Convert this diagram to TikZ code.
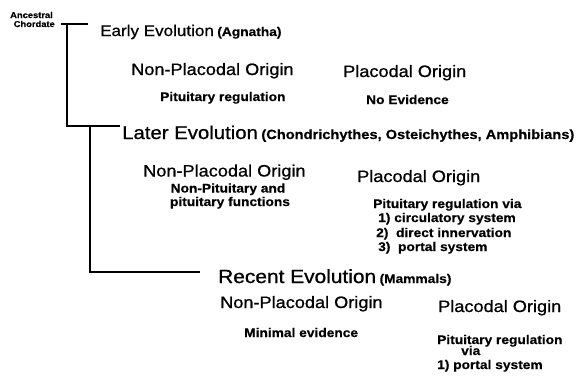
\documentclass[tikz,border=0pt]{standalone}
\usepackage{fontspec}
\setmainfont{Liberation Sans}[FakeStretch=1.1, UprightFeatures={FakeBold=0.8}, BoldFeatures={FakeBold=0.4}]
\begin{document}
\begin{tikzpicture}[x=1pt,y=-1pt,
  head/.style={anchor=base west, inner sep=0pt, font=\fontsize{16.5}{19}\selectfont},
  big/.style={anchor=base west, inner sep=0pt, font=\fontsize{#1}{#1}\selectfont},
  small/.style={anchor=base west, inner sep=0pt, font=\bfseries\fontsize{12.5}{14}\selectfont},
  tiny/.style={anchor=base east, inner sep=0pt, font=\bfseries\fontsize{8.5}{9}\selectfont},
  paren/.style={anchor=base west, inner sep=0pt, font=\bfseries\fontsize{#1}{#1}\selectfont},
  branch/.style={line width=1.7pt}]
\useasboundingbox (0,0) rectangle (576,380);
\fill[white] (0,0) rectangle (576,380);
% root label
\node[tiny] (anc1) at (53,18) {Ancestral};
\node[tiny] (anc2) at (55,27) {Chordate};
% tree
\coordinate (t0) at (61,24);
\coordinate (t1) at (88,24);
\coordinate (v1) at (67,24);
\coordinate (b1) at (67,126);
\coordinate (e1) at (120,126);
\coordinate (v2) at (90,126);
\coordinate (b2) at (90,272);
\coordinate (e2) at (200,272);
\draw[branch] (t0) -- (t1);
\draw[branch] (v1) -- (b1) -- (e1);
\draw[branch] (v2) -- (b2) -- (e2);
% Early
\node[big=15.5] (early) at (100,36) {Early Evolution};
\node[paren=12.5] (agn) at ([xshift=3pt]early.base east) {(Agnatha)};
\node[head] (np1) at (131,75) {Non-Placodal Origin};
\node[head] (p1) at (343,77) {Placodal Origin};
\node[small] (s1a) at (160,101) {Pituitary regulation};
\node[small] (s1b) at (366,104) {No Evidence};
% Later
\node[big=18.5] (later) at (122,139) {Later Evolution};
\node[paren=13.3] (chon) at ([xshift=3pt]later.base east) {(Chondrichythes, Osteichythes, Amphibians)};
\node[head] (np2) at (143,176.5) {Non-Placodal Origin};
\node[head] (p2) at (357,182) {Placodal Origin};
\node[small,anchor=base] (s2a) at (228,192.5) {Non-Pituitary and};
\node[small,anchor=base] (s2b) at (230,206) {pituitary functions};
\node[small] (s2c) at (373,208) {Pituitary regulation via};
\node[small] (s2d) at (378,222) {1) circulatory system};
\node[small] (s2e) at (376,237) {2)\ \ direct innervation};
\node[small] (s2f) at (378,251) {3)\ \ portal system};
% Recent
\node[big=19] (recent) at (218,283) {Recent Evolution};
\node[paren=12.5] (mam) at ([xshift=3pt]recent.base east) {(Mammals)};
\node[head] (np3) at (220,308) {Non-Placodal Origin};
\node[head] (p3) at (438,312) {Placodal Origin};
\node[small] (s3a) at (244,337) {Minimal evidence};
\node[small] (s3b) at (437,344) {Pituitary regulation};
\node[small] (s3c) at (461,355) {via};
\node[small] (s3d) at (437,369) {1) portal system};
\end{tikzpicture}
\end{document}
